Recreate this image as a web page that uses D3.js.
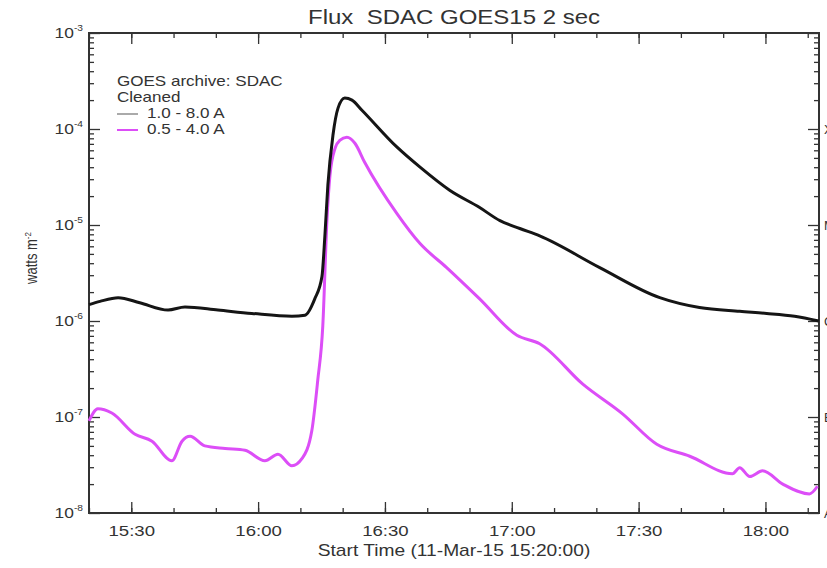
<!DOCTYPE html>
<meta charset="utf-8">
<head>
    <script src="https://cdn.jsdelivr.net/npm/d3@7"></script>
    <style>
        body { margin: 0; background: #fff; }
        text { font-family: "Liberation Sans", Arial, sans-serif; fill: #333; }
        .axis line { stroke: #333; stroke-width: 1.3px; }
        .axis path { display: none; }
    </style>
</head>
<body>
<script type="text/javascript">

    // 1.0 - 8.0 A channel (long)
    var longTimes = ["15:20:00", "15:22:36", "15:26:54", "15:32:00", "15:38:42", "15:42:42", "15:50:30",
        "15:58:30", "16:08:00", "16:11:06", "16:13:24", "16:15:06", "16:15:48", "16:16:30", "16:17:42",
        "16:18:54", "16:20:30", "16:22:12", "16:24:30", "16:32:48", "16:38:18", "16:45:18",
        "16:52:24", "16:57:12", "17:01:54", "17:06:36", "17:20:48", "17:35:00", "17:44:24", "17:53:54",
        "18:00:18", "18:06:54", "18:12:36"];
    var longFlux = [1.48e-6, 1.6e-6, 1.75e-6, 1.55e-6, 1.3e-6, 1.4e-6, 1.3e-6,
        1.2e-6, 1.12e-6, 1.15e-6, 1.7e-6, 2.9e-6, 7.8e-6, 2.6e-5, 8.6e-5,
        1.65e-4, 2.1e-4, 2.0e-4, 1.58e-4, 6.5e-5, 4e-5, 2.3e-5,
        1.52e-5, 1.11e-5, 9.2e-6, 7.7e-6, 3.6e-6, 1.75e-6, 1.38e-6, 1.26e-6,
        1.2e-6, 1.12e-6, 1.0e-6];

    // 0.5 - 4.0 A channel (short)
    var shortTimes = ["15:20:00", "15:22:06", "15:25:24", "15:30:54", "15:34:54", "15:39:36", "15:42:00",
        "15:43:54", "15:47:24", "15:52:12", "15:56:54", "16:01:36", "16:04:42", "16:08:00", "16:10:24",
        "16:12:42", "16:14:06", "16:15:18", "16:16:18", "16:17:00", "16:18:12", "16:19:18", "16:21:00",
        "16:22:54", "16:25:12", "16:32:48", "16:38:18", "16:44:36", "16:52:24", "17:01:12", "17:06:36",
        "17:16:48", "17:26:12", "17:34:18", "17:42:06", "17:52:12", "17:53:54", "17:56:18", "17:59:18",
        "18:04:06", "18:10:24", "18:12:18"];
    var shortFlux = [9.1e-8, 1.22e-7, 1.1e-7, 6.6e-8, 5.6e-8, 3.5e-8, 5.6e-8,
        6.3e-8, 5e-8, 4.7e-8, 4.5e-8, 3.5e-8, 4.1e-8, 3.1e-8, 3.7e-8,
        7.2e-8, 2.4e-7, 8.9e-7, 1.17e-5, 3.3e-5, 6.3e-5, 7.6e-5, 8.2e-5,
        7.1e-5, 4.5e-5, 1.32e-5, 6.4e-6, 3.6e-6, 1.7e-6, 7.1e-7, 5.8e-7,
        2.2e-7, 1.08e-7, 5.2e-8, 3.9e-8, 2.56e-8, 2.96e-8, 2.4e-8, 2.75e-8,
        2e-8, 1.58e-8, 1.9e-8];

    var xTickLabels = ["15:30", "16:00", "16:30", "17:00", "17:30", "18:00"];
    var yExponents = [-3, -4, -5, -6, -7, -8];
    var classLetters = ["X", "M", "C", "B", "A"];
    var legendLines = ["GOES archive: SDAC", "Cleaned"];
    var seriesNames = ["1.0 - 8.0 A", "0.5 - 4.0 A"];

    var width = 827;
    var height = 568;
    var padding = {top: 33, bottom: 55, left: 89, right: 8};
    var stretch = 1.2; // text in the picture is wider than it is tall

    var parseTime = d3.timeParse("%Y-%m-%d %H:%M:%S");
    function toDate(t) { return parseTime("2015-03-11 " + t); }

    var svg = d3.select("body")
        .append("svg")
        .attr("width", width)
        .attr("height", height);

    var x = d3.scaleTime()
        .domain([toDate("15:20:00"), toDate("18:12:40")])
        .range([padding.left, width - padding.right]);

    var y = d3.scaleLog()
        .domain([1e-8, 1e-3])
        .range([height - padding.bottom, padding.top]);

    var majorX = xTickLabels.map(function (t) { return toDate(t + ":00"); });
    var minorX = d3.timeMinute.every(10).range(x.domain()[0], x.domain()[1]);
    var majorY = yExponents.map(function (e) { return Math.pow(10, e); });
    var minorY = [];
    for (var e = -8; e < -3; e++) {
        for (var k = 2; k < 10; k++) minorY.push(k * Math.pow(10, e));
    }

    // axes: ticks pointing inwards on all four sides
    function addAxis(axis, tx, ty) {
        return svg.append("g")
            .attr("class", "axis")
            .attr("transform", "translate(" + tx + "," + ty + ")")
            .call(axis);
    }
    var bottom = height - padding.bottom;
    var right = width - padding.right;

    var xb = addAxis(d3.axisBottom(x).tickValues(majorX).tickSize(-11)
        .tickPadding(12).tickFormat(d3.timeFormat("%H:%M")), 0, bottom);
    xb.selectAll("text")
        .style("font-size", "15.5px")
        .attr("transform", "scale(" + stretch + ",1)");
    addAxis(d3.axisBottom(x).tickValues(minorX).tickSize(-5).tickFormat(""), 0, bottom);
    addAxis(d3.axisTop(x).tickValues(majorX).tickSize(-11).tickFormat(""), 0, padding.top);
    addAxis(d3.axisTop(x).tickValues(minorX).tickSize(-5).tickFormat(""), 0, padding.top);

    addAxis(d3.axisLeft(y).tickValues(majorY).tickSize(-11).tickFormat(""), padding.left, 0);
    addAxis(d3.axisLeft(y).tickValues(minorY).tickSize(-5).tickFormat(""), padding.left, 0);
    addAxis(d3.axisRight(y).tickValues(majorY).tickSize(-11).tickFormat(""), right, 0);
    addAxis(d3.axisRight(y).tickValues(minorY).tickSize(-5).tickFormat(""), right, 0);

    // y tick labels 10^n
    var yl = svg.selectAll(".ylab")
        .data(yExponents)
        .enter()
        .append("text")
        .attr("class", "ylab")
        .attr("text-anchor", "end")
        .attr("transform", function (d) {
            return "translate(" + (padding.left - 6) + "," + (y(Math.pow(10, d)) + 5) + ") scale(" + stretch + ",1)";
        })
        .style("font-size", "14.5px");
    yl.append("tspan").text("10");
    yl.append("tspan")
        .attr("dy", -7)
        .style("font-size", "8.5px")
        .text(function (d) { return d; });

    // frame
    svg.append("rect")
        .attr("x", padding.left)
        .attr("y", padding.top)
        .attr("width", right - padding.left)
        .attr("height", bottom - padding.top)
        .attr("fill", "none")
        .attr("stroke", "#333")
        .attr("stroke-width", 2);

    // curves
    var line = d3.line()
        .x(function (d) { return x(d.t); })
        .y(function (d) { return y(d.v); })
        .curve(d3.curveMonotoneX);

    var longData = longTimes.map(function (t, i) { return {t: toDate(t), v: longFlux[i]}; });
    var shortData = shortTimes.map(function (t, i) { return {t: toDate(t), v: shortFlux[i]}; });

    svg.append("path")
        .datum(shortData)
        .attr("fill", "none")
        .attr("stroke", "#dc4ef7")
        .attr("stroke-width", 3)
        .attr("stroke-linejoin", "round")
        .attr("d", line);

    svg.append("path")
        .datum(longData)
        .attr("fill", "none")
        .attr("stroke", "#151515")
        .attr("stroke-width", 3)
        .attr("stroke-linejoin", "round")
        .attr("d", line);

    // GOES class letters on the right, mostly off the page as in the original
    svg.selectAll(".cls")
        .data(classLetters)
        .enter()
        .append("text")
        .attr("class", "cls")
        .attr("x", right + 5)
        .attr("y", function (d, i) { return y(Math.pow(10, -4 - i)) + 5; })
        .style("font-size", "13px")
        .text(function (d) { return d; });

    // title (keeps the double space)
    svg.append("text")
        .attr("text-anchor", "middle")
        .attr("xml:space", "preserve")
        .style("white-space", "pre")
        .attr("transform", "translate(" + ((padding.left + right) / 2) + ",24) scale(" + stretch + ",1)")
        .style("font-size", "20px")
        .text("Flux  SDAC GOES15 2 sec");

    // axis titles
    svg.append("text")
        .attr("text-anchor", "middle")
        .attr("transform", "translate(" + ((padding.left + right) / 2) + ",556) scale(" + stretch + ",1)")
        .style("font-size", "16px")
        .text("Start Time (11-Mar-15 15:20:00)");

    var yt = svg.append("text")
        .attr("text-anchor", "middle")
        .attr("transform", "translate(37,258) rotate(-90) scale(1," + stretch + ")")
        .style("font-size", "13px");
    yt.append("tspan").text("watts m");
    yt.append("tspan").attr("dy", -5).style("font-size", "8px").text("-2");

    // legend
    var lg = svg.append("g").attr("transform", "translate(117,86)");
    lg.selectAll(".lgt")
        .data(legendLines)
        .enter()
        .append("text")
        .attr("transform", function (d, i) { return "translate(0," + (i * 16) + ") scale(" + stretch + ",1)"; })
        .style("font-size", "14.2px")
        .text(function (d) { return d; });
    var lgColors = ["#aaaaaa", "#dc4ef7"];
    seriesNames.forEach(function (name, i) {
        var yy = 32 + i * 16;
        lg.append("line")
            .attr("x1", 0).attr("x2", 21)
            .attr("y1", yy - 4).attr("y2", yy - 4)
            .attr("stroke", lgColors[i])
            .attr("stroke-width", 2);
        lg.append("text")
            .attr("transform", "translate(30," + yy + ") scale(" + stretch + ",1)")
            .style("font-size", "14.2px")
            .text(name);
    });

</script>
</body>
</html>
